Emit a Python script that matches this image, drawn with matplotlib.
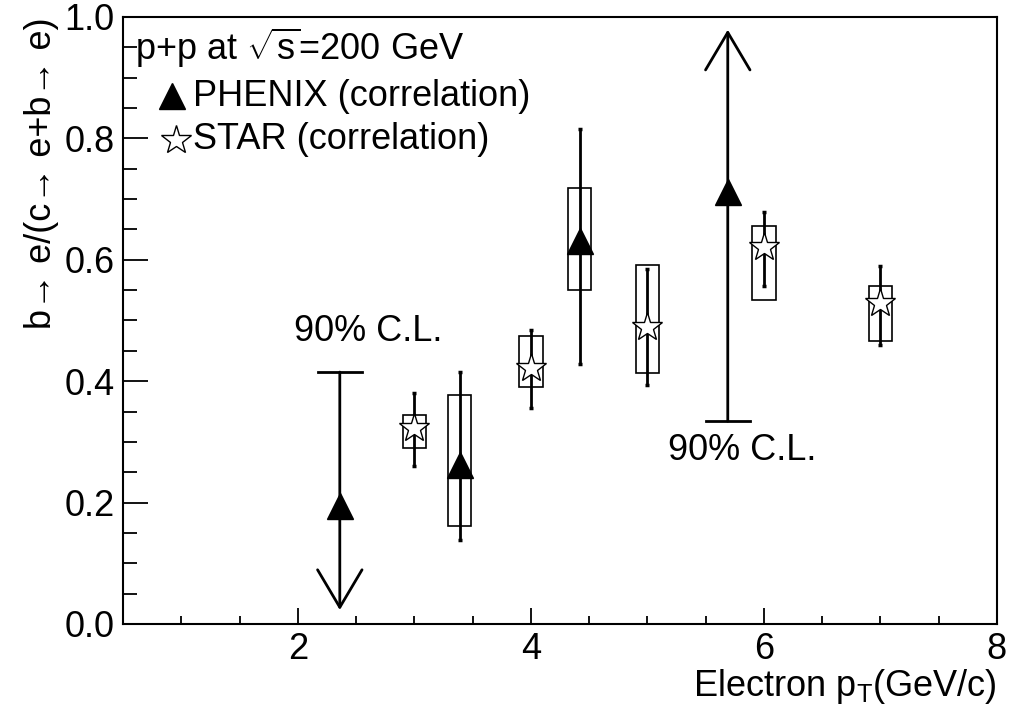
import numpy as np
import matplotlib.pyplot as plt
from matplotlib.patches import Rectangle

plt.rcParams['font.family'] = ['Liberation Sans', 'DejaVu Sans']
plt.rcParams['mathtext.fontset'] = 'custom'
plt.rcParams['mathtext.rm'] = 'Liberation Sans'
plt.rcParams['mathtext.it'] = 'Liberation Sans'

# PHENIX (correlation) - measured points with stat errors and sys boxes
phx_pt = [3.39, 4.42]
phx_val = [0.262, 0.631]
phx_stat_lo = [0.139, 0.428]
phx_stat_hi = [0.415, 0.815]
phx_sys_lo = [0.162, 0.551]
phx_sys_hi = [0.377, 0.718]

# PHENIX limits (90% C.L.)
lim_pt = [2.36, 5.69]
lim_val = [0.195, 0.711]
lim_bar = [0.415, 0.334]     # position of the 90% C.L. bar
lim_tip = [0.023, 0.979]     # arrow tip

# STAR (correlation)
star_pt = [3.0, 4.0, 5.0, 6.0, 7.0]
star_val = [0.323, 0.421, 0.490, 0.621, 0.528]
star_stat_lo = [0.260, 0.355, 0.394, 0.557, 0.460]
star_stat_hi = [0.380, 0.485, 0.584, 0.679, 0.590]
star_sys_lo = [0.290, 0.390, 0.413, 0.534, 0.466]
star_sys_hi = [0.344, 0.475, 0.592, 0.656, 0.557]

box_hw = 0.1
fs = 26

fig = plt.figure(figsize=(10.09, 7.15), dpi=100)
ax = fig.add_axes([0.122, 0.1273, 0.866, 0.849])

# systematic boxes
for x, lo, hi in zip(phx_pt + star_pt, phx_sys_lo + star_sys_lo, phx_sys_hi + star_sys_hi):
    ax.add_patch(Rectangle((x - box_hw, lo), 2 * box_hw, hi - lo, fill=False,
                           edgecolor='black', linewidth=1.2, zorder=2))

# stat error bars
for pts, vals, lo, hi in [(phx_pt, phx_val, phx_stat_lo, phx_stat_hi),
                          (star_pt, star_val, star_stat_lo, star_stat_hi)]:
    v = np.array(vals)
    yerr = [v - np.array(lo), np.array(hi) - v]
    ax.errorbar(pts, v, yerr=yerr, fmt='none', ecolor='black', elinewidth=2,
                capsize=1.5, capthick=2.5, zorder=3)

# limits with arrows
for x, bar, tip in zip(lim_pt, lim_bar, lim_tip):
    ax.plot([x - 0.19, x + 0.19], [bar, bar], color='black', lw=2, zorder=3)
    ax.annotate('', xy=(x, tip), xytext=(x, bar),
                arrowprops=dict(arrowstyle='->,head_length=2.7,head_width=1.6',
                                mutation_scale=10, lw=2, color='black',
                                shrinkA=0, shrinkB=0), zorder=3)

# markers
ax.plot(phx_pt + lim_pt, phx_val + lim_val, ls='none', marker='^', ms=19,
        color='black', zorder=4)
ax.plot(star_pt, star_val, ls='none', marker='*', ms=22, mfc='white',
        mec='black', mew=1, zorder=4)

ax.text(2.6, 0.482, '90% C.L.', fontsize=fs, ha='center', va='center')
ax.text(5.81, 0.285, '90% C.L.', fontsize=fs, ha='center', va='center')

# legend
ax.text(0.014, 0.949, r'p+p at $\sqrt{\mathrm{s}}$=200 GeV', transform=ax.transAxes,
        fontsize=fs, ha='left', va='center')
ax.plot([0.056], [0.869], transform=ax.transAxes, marker='^', ms=19, color='black',
        ls='none', clip_on=False)
ax.text(0.080, 0.869, 'PHENIX (correlation)', transform=ax.transAxes,
        fontsize=fs, ha='left', va='center')
ax.plot([0.060], [0.798], transform=ax.transAxes, marker='*', ms=22, mfc='white',
        mec='black', mew=1, ls='none', clip_on=False)
ax.text(0.080, 0.798, 'STAR (correlation)', transform=ax.transAxes,
        fontsize=fs, ha='left', va='center')

ax.set_xlim(0.5, 8)
ax.set_ylim(0, 1)
ax.set_xticks([2, 4, 6, 8])
ax.set_xticks(np.arange(1, 8, 0.5), minor=True)
ax.set_yticks(np.arange(0, 1.01, 0.2))
ax.set_yticks(np.arange(0, 1.0, 0.05), minor=True)
ax.yaxis.set_major_formatter(plt.FormatStrFormatter('%.1f'))
ax.tick_params(which='both', direction='in', top=False, right=False,
               labelsize=fs, width=1.3)
ax.tick_params(axis='x', which='major', length=11.5, pad=6)
ax.tick_params(axis='x', which='minor', length=6)
ax.tick_params(axis='y', which='major', length=18, pad=6)
ax.tick_params(axis='y', which='minor', length=10)
for s in ax.spines.values():
    s.set_linewidth(1.5)

ax.set_xlabel(r'Electron p$_\mathrm{T}$(GeV/c)', fontsize=fs, loc='right', labelpad=0)
ax.set_ylabel('b→ e/(c→ e+b→ e)', fontsize=fs, loc='top', labelpad=4)

fig.savefig('out.png', dpi=100)
